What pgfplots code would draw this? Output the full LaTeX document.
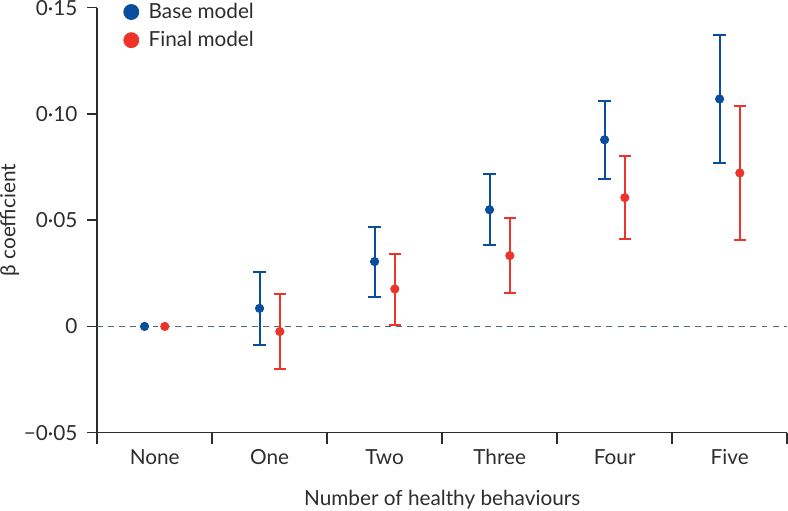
\documentclass[border=0pt]{standalone}
\usepackage{pgfplots}
\pgfplotsset{compat=1.18}
\usepackage{pgfplotstable}
\usepackage{fontspec}
\setmainfont{Lato}

\definecolor{basec}{RGB}{8,78,156}
\definecolor{finalc}{RGB}{236,52,42}
\definecolor{zeroc}{RGB}{80,102,118}
\definecolor{axc}{RGB}{45,45,45}

% x = category index -/+ offset, y, error up, error down
\pgfplotstableread{
x      y        ep      em
0.912  0.0085   0.0170  0.0172
1.912  0.0305   0.0163  0.0165
2.912  0.0549   0.0167  0.0167
3.912  0.0878   0.0184  0.0184
4.912  0.1070   0.0300  0.0300
}\basetab
\pgfplotstableread{
x      y        ep      em
1.088  -0.0024  0.0178  0.0176
2.088  0.0176   0.0167  0.0171
3.088  0.0333   0.0178  0.0176
4.088  0.0606   0.0197  0.0195
5.088  0.0722   0.0314  0.0314
}\finaltab

\begin{document}
\begin{tikzpicture}
\begin{axis}[
    scale only axis,
    width=349pt, height=215pt,
    xmin=-0.5, xmax=5.5,
    ymin=-0.05, ymax=0.15,
    axis x line=bottom, axis y line=left,
    axis line style={-, draw=axc, line width=0.8pt},
    tick align=outside,
    xtick={0,...,5},
    xticklabels={None,One,Two,Three,Four,Five},
    minor xtick={-0.5,0.5,...,5.5},
    major x tick style={draw=none},
    minor tick length=5.6pt,
    major tick length=5pt,
    every tick/.style={draw=axc, line width=0.8pt},
    ytick={-0.05,0,0.05,0.10,0.15},
    yticklabels={−0·05,0,0·05,0·10,0·15},
    tick label style={font=\fontsize{10.5}{12}\selectfont, text=axc},
    xticklabel style={yshift=0pt},
    yticklabel style={xshift=-1.5pt, inner ysep=0pt},
    xlabel={Number of healthy behaviours},
    ylabel={β coefficient},
    label style={font=\fontsize{10.5}{12}\selectfont, text=axc},
    xlabel style={at={(axis description cs:0.5,-0.157)}, anchor=center, inner ysep=1pt},
    ylabel style={at={(axis description cs:-0.127,0.5)}, anchor=center, inner sep=0pt},
    legend style={at={(axis description cs:0.038,1.012)}, anchor=north west,
        draw=none, fill=none, inner sep=0pt, row sep=5pt, column sep=3pt,
        nodes={inner ysep=0pt},
        font=\fontsize{10.5}{12}\selectfont, text=axc},
    legend cell align=left,
]
\addlegendimage{only marks, mark=*, mark size=3.8pt, color=basec}
\addlegendentry{Base model}
\addlegendimage{only marks, mark=*, mark size=3.8pt, color=finalc}
\addlegendentry{Final model}

\addplot[zeroc, line width=0.8pt, dash pattern=on 3pt off 2.6pt, forget plot]
    coordinates {(-0.5,0) (5.5,0)};

\addplot[only marks, mark=*, mark size=2.1pt, color=basec, forget plot]
    coordinates {(-0.088,0)};
\addplot[only marks, mark=*, mark size=2.1pt, color=finalc, forget plot]
    coordinates {(0.088,0)};

\addplot[only marks, mark=*, mark size=2.1pt, color=basec, forget plot,
    error bars/.cd, y dir=both, y explicit,
    error bar style={line width=1pt},
    error mark options={rotate=90, line width=1pt, mark size=3.15pt}]
    table[x=x, y=y, y error plus=ep, y error minus=em] {\basetab};
\addplot[only marks, mark=*, mark size=2.1pt, color=finalc, forget plot,
    error bars/.cd, y dir=both, y explicit,
    error bar style={line width=1pt},
    error mark options={rotate=90, line width=1pt, mark size=3.15pt}]
    table[x=x, y=y, y error plus=ep, y error minus=em] {\finaltab};
\end{axis}
\end{tikzpicture}
\end{document}
